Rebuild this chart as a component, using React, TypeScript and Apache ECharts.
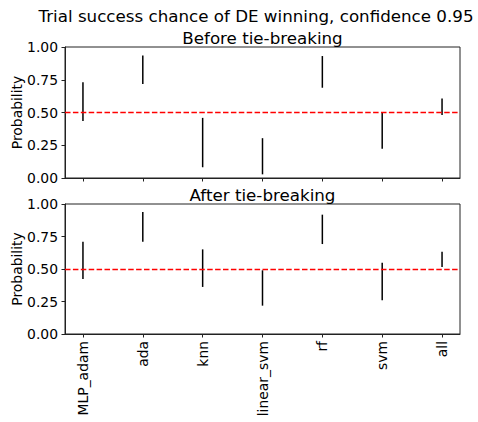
import React, { useEffect, useRef } from "react";
import * as echarts from "echarts";

const categories = ["MLP_adam", "ada", "knn", "linear_svm", "rf", "svm", "all"];
const beforeLow = [0.436, 0.717, 0.082, 0.028, 0.689, 0.224, 0.48];
const beforeHigh = [0.73, 0.936, 0.459, 0.304, 0.931, 0.503, 0.607];
const afterLow = [0.423, 0.71, 0.362, 0.218, 0.692, 0.259, 0.515];
const afterHigh = [0.71, 0.938, 0.651, 0.49, 0.918, 0.549, 0.633];
const yTicks = [0, 0.25, 0.5, 0.75, 1];
const threshold = 0.5;

const FONT = "DejaVu Sans";
const TICK_FS = 13.9;
const TITLE_FS = 16.7;
const AXIS_COLOR = "#222";

function makeXAxis(gridIndex: number, showLabels: boolean) {
  const idx = categories.map((_, i) => i);
  return {
    type: "value",
    gridIndex,
    min: -0.3,
    max: 6.3,
    splitLine: { show: false },
    axisLine: { show: true, onZero: false, lineStyle: { color: AXIS_COLOR, width: 1 } },
    axisTick: {
      show: true,
      inside: false,
      length: 3.5,
      customValues: idx,
      lineStyle: { color: AXIS_COLOR, width: 1 },
    },
    axisLabel: {
      show: showLabels,
      customValues: idx,
      rotate: 90,
      margin: 7,
      color: "#000",
      fontFamily: FONT,
      fontSize: TICK_FS,
      formatter: (v: number) => categories[Math.round(v)] ?? "",
    },
  };
}

function makeYAxis(gridIndex: number) {
  return {
    type: "value",
    gridIndex,
    min: 0,
    max: 1,
    interval: 0.25,
    name: "Probability",
    nameLocation: "middle",
    nameGap: 41,
    nameMoveOverlap: false,
    nameTextStyle: { color: "#000", fontFamily: FONT, fontSize: TICK_FS },
    splitLine: { show: false },
    axisLine: { show: true, onZero: false, lineStyle: { color: AXIS_COLOR, width: 1 } },
    axisTick: {
      show: true,
      inside: false,
      length: 3.5,
      customValues: yTicks,
      lineStyle: { color: AXIS_COLOR, width: 1 },
    },
    axisLabel: {
      customValues: yTicks,
      margin: 7,
      color: "#000",
      fontFamily: FONT,
      fontSize: TICK_FS,
      formatter: (v: number) => v.toFixed(2),
    },
  };
}

function makeSeries(idx: number, low: number[], high: number[]) {
  return {
    type: "custom",
    xAxisIndex: idx,
    yAxisIndex: idx,
    data: categories.map((_, i) => [i, low[i], high[i]]),
    renderItem: (params: any, api: any) => {
      const p1 = api.coord([api.value(0), api.value(1)]);
      const p2 = api.coord([api.value(0), api.value(2)]);
      return {
        type: "line",
        shape: { x1: p1[0], y1: p1[1], x2: p2[0], y2: p2[1] },
        style: { stroke: "#000", lineWidth: 1.5 },
      };
    },
    markLine: {
      silent: true,
      symbol: "none",
      label: { show: false },
      lineStyle: { color: "#ff0000", type: [5.5, 2.4], width: 1.3 },
      data: [{ yAxis: threshold }],
    },
    z: 3,
  };
}

export default function App() {
  const ref = useRef<HTMLDivElement>(null);
  useEffect(() => {
    if (!ref.current) return;
    const chart = echarts.init(ref.current, null, { renderer: "svg" });
    const cx = 262.5;
    const gridBase = {
      show: true,
      borderColor: AXIS_COLOR,
      borderWidth: 1,
      backgroundColor: "transparent",
      containLabel: false,
      outerBoundsMode: "none",
    };
    const titleStyle = {
      fontFamily: FONT,
      fontSize: TITLE_FS,
      lineHeight: 18,
      fill: "#000",
      align: "center",
      verticalAlign: "middle",
    };
    chart.setOption({
      animation: false,
      backgroundColor: "#fff",
      grid: [
        { ...gridBase, left: 65, top: 47, width: 395, height: 131 },
        { ...gridBase, left: 65, top: 204, width: 395, height: 130 },
      ],
      xAxis: [makeXAxis(0, false), makeXAxis(1, true)],
      yAxis: [makeYAxis(0), makeYAxis(1)],
      series: [makeSeries(0, beforeLow, beforeHigh), makeSeries(1, afterLow, afterHigh)],
      graphic: [
        {
          type: "text",
          x: 256,
          y: 16.2,
          style: { ...titleStyle, text: "Trial success chance of DE winning, confidence 0.95" },
        },
        {
          type: "text",
          x: cx,
          y: 37.8,
          style: { ...titleStyle, text: "Before tie-breaking" },
        },
        {
          type: "text",
          x: cx,
          y: 194.5,
          style: { ...titleStyle, text: "After tie-breaking" },
        },
      ],
    });
    return () => chart.dispose();
  }, []);
  return (
    <div
      ref={ref}
      style={{ position: "fixed", left: 0, top: 0, width: 478, height: 422 }}
    />
  );
}
